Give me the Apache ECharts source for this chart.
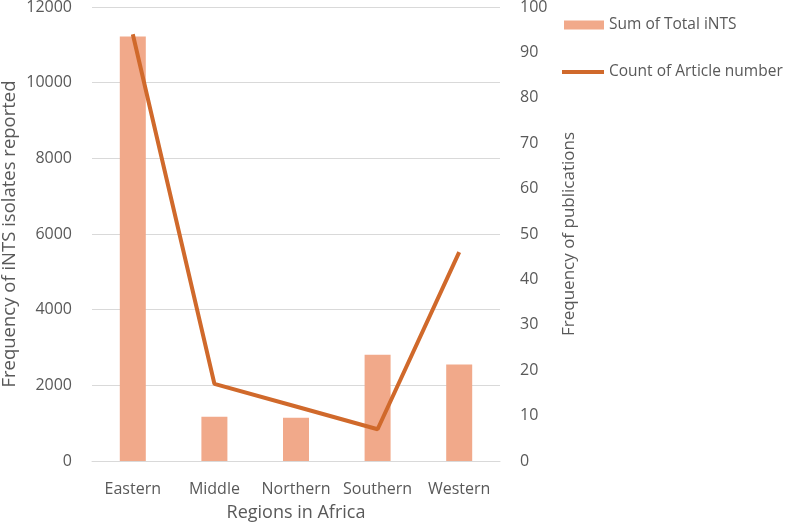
<!DOCTYPE html>
<html>
<head>
<meta charset="utf-8">
<script src="https://cdn.jsdelivr.net/npm/echarts@6/dist/echarts.min.js"></script>
<style>html,body{margin:0;padding:0;background:#fff}#c{width:790px;height:527px}</style>
</head>
<body>
<div id="c"></div>
<script>
const categories = ['Eastern', 'Middle', 'Northern', 'Southern', 'Western'];
const totalINTS = [11220, 1170, 1140, 2810, 2550];
const articleCount = [94, 17, 12, 7, 46];

const FONT = "'Open Sans', 'Liberation Sans', sans-serif";
const TXT = '#595959';
const chart = echarts.init(document.getElementById('c'));
chart.setOption({
  animation: false,
  textStyle: { fontFamily: FONT },
  grid: { left: 92, right: 290, top: 7, bottom: 66, containLabel: false, outerBoundsMode: 'none' },
  legend: [
    { data: [{ name: 'Sum of Total iNTS', icon: 'rect' }], left: 559, top: 12, itemWidth: 40, itemHeight: 9, itemGap: 6,
      textStyle: { color: TXT, fontSize: 15.5, fontFamily: FONT } },
    { data: [{ name: 'Count of Article number', icon: 'rect' }], left: 557, top: 59, itemWidth: 42, itemHeight: 4, itemGap: 4,
      textStyle: { color: TXT, fontSize: 15.5, fontFamily: FONT } }
  ],
  xAxis: {
    type: 'category', data: categories,
    axisLine: { lineStyle: { color: '#d9d9d9', width: 1 } },
    axisTick: { show: false },
    axisLabel: { color: TXT, fontSize: 16, margin: 20, interval: 0, fontFamily: FONT },
    name: 'Regions in Africa', nameLocation: 'middle', nameGap: 43,
    nameTextStyle: { color: TXT, fontSize: 18, fontFamily: FONT }
  },
  yAxis: [
    { type: 'value', min: 0, max: 12000, interval: 2000,
      axisLine: { show: false }, axisTick: { show: false },
      splitLine: { lineStyle: { color: '#d9d9d9', width: 1 } },
      axisLabel: { color: TXT, fontSize: 16, margin: 20, fontFamily: FONT, formatter: v => String(v) },
      name: 'Frequency of iNTS isolates reported', nameLocation: 'middle', nameGap: 73, nameRotate: 90,
      nameMoveOverlap: false,
      nameTextStyle: { color: TXT, fontSize: 18.5, fontFamily: FONT } },
    { type: 'value', min: 0, max: 100, interval: 10, position: 'right',
      axisLine: { show: false }, axisTick: { show: false }, splitLine: { show: false },
      axisLabel: { color: TXT, fontSize: 16, margin: 20, fontFamily: FONT },
      name: 'Frequency of publications', nameLocation: 'middle', nameGap: 61, nameRotate: 90,
      nameMoveOverlap: false,
      nameTextStyle: { color: TXT, fontSize: 17, fontFamily: FONT } }
  ],
  series: [
    { name: 'Sum of Total iNTS', type: 'bar', data: totalINTS, yAxisIndex: 0, barWidth: 26,
      itemStyle: { color: '#F1A98A' } },
    { name: 'Count of Article number', type: 'line', data: articleCount, yAxisIndex: 1,
      symbol: 'none', lineStyle: { color: '#D0692B', width: 4 }, itemStyle: { color: '#D0692B' } }
  ]
});
</script>
</body>
</html>
